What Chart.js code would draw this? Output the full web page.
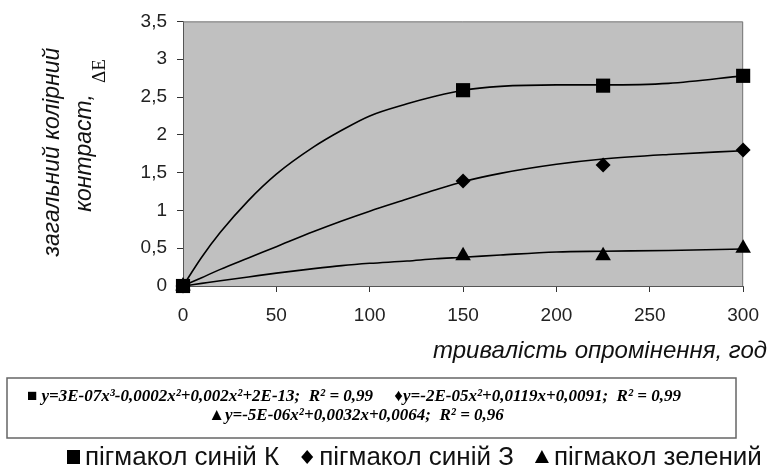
<!DOCTYPE html>
<html>
<head>
<meta charset="utf-8">
<script src="https://cdn.jsdelivr.net/npm/chart.js@4/dist/chart.umd.min.js"></script>
<style>
  html, body { margin: 0; padding: 0; background: #fff; }
  #wrap { width: 771px; height: 468px; position: relative; }
</style>
</head>
<body>
<div id="wrap"><canvas id="chart" width="771" height="468"></canvas></div>
<script>
// ======================================
// Data
// ======================================
const measX = [0, 150, 225, 300];
const blueK = [0, 2.59, 2.65, 2.78];
const blue3 = [0, 1.39, 1.6, 1.8];
const green = [0, 0.4, 0.4, 0.5];

// trend lines
const trendX = [0, 10, 20, 35, 50, 70, 85, 100, 120, 135, 150, 170, 200, 225, 260, 300];
const trendK = [0, 0.38, 0.71, 1.13, 1.48, 1.84, 2.06, 2.25, 2.41, 2.51, 2.59, 2.64, 2.66, 2.66, 2.68, 2.78];
const trend3 = [0, 0.11, 0.22, 0.37, 0.52, 0.72, 0.86, 0.99, 1.15, 1.27, 1.38, 1.49, 1.61, 1.68, 1.74, 1.79];
const trendG = [0, 0.035, 0.07, 0.12, 0.17, 0.23, 0.27, 0.3, 0.33, 0.36, 0.38, 0.41, 0.45, 0.46, 0.47, 0.49];

const yTicks = [0, 0.5, 1, 1.5, 2, 2.5, 3, 3.5];
const xTicks = [0, 50, 100, 150, 200, 250, 300];

const seriesNames = ['пігмакол синій К', 'пігмакол синій З', 'пігмакол зелений'];
const equations = [
  '■ y=3E-07x³-0,0002x²+0,002x²+2E-13;  R² = 0,99     ♦y=-2E-05x²+0,0119x+0,0091;  R² = 0,99',
  '▲y=-5E-06x²+0,0032x+0,0064;  R² = 0,96'
];

const pts = (xs, ys) => xs.map((x, i) => ({ x: x, y: ys[i] }));

// ======================================
// Plot background, frame, titles, legend
// ======================================
const decor = {
  id: 'decor',
  beforeDraw(chart) {
    const { ctx, chartArea: a } = chart;
    ctx.save();
    ctx.fillStyle = '#c0c0c0';
    ctx.fillRect(a.left, a.top, a.right - a.left, a.bottom - a.top);
    ctx.restore();
  },
  beforeDatasetsDraw(chart) {
    const { ctx, chartArea: a } = chart;
    ctx.save();
    // top / right frame
    ctx.strokeStyle = '#7a7a7a';
    ctx.lineWidth = 1;
    ctx.beginPath();
    ctx.moveTo(a.left, a.top + 0.5);
    ctx.lineTo(a.right - 0.5, a.top + 0.5);
    ctx.lineTo(a.right - 0.5, a.bottom);
    ctx.stroke();
    ctx.restore();
  },
  afterDraw(chart) {
    const { ctx } = chart;
    ctx.save();

    // y title
    ctx.fillStyle = '#111';
    ctx.textAlign = 'center';
    ctx.textBaseline = 'middle';
    ctx.save();
    ctx.translate(53, 152);
    ctx.rotate(-Math.PI / 2);
    ctx.font = 'italic 23px "Liberation Sans"';
    ctx.fillText('загальний колірний', 0, 0);
    ctx.restore();

    ctx.save();
    ctx.translate(85, 153);
    ctx.rotate(-Math.PI / 2);
    ctx.font = 'italic 23px "Liberation Sans"';
    ctx.fillText('контраст,', 0, 0);
    ctx.font = '19px "Liberation Serif"';
    ctx.textAlign = 'left';
    ctx.fillText('ΔE', 70, 15);
    ctx.restore();

    // x title
    ctx.font = 'italic 24px "Liberation Sans"';
    ctx.textAlign = 'right';
    ctx.textBaseline = 'alphabetic';
    ctx.fillText('тривалість опромінення, год', 767, 358);

    // equation box
    ctx.strokeStyle = '#666';
    ctx.lineWidth = 1.5;
    ctx.strokeRect(7, 378, 729, 60);
    ctx.font = 'italic bold 17px "Liberation Serif"';
    ctx.textAlign = 'center';
    ctx.textBaseline = 'middle';
    ctx.fillStyle = '#000';
    ctx.fillText(equations[0], 354, 397);
    ctx.fillText(equations[1], 356, 416);

    // legend
    ctx.font = '26px "Liberation Sans"';
    ctx.textAlign = 'left';
    const syms = ['rect', 'rectRot', 'triangle'];
    let x = 67;
    const y = 457;
    seriesNames.forEach((name, i) => {
      ctx.fillStyle = '#000';
      ctx.beginPath();
      if (syms[i] === 'rect') ctx.rect(x, y - 7, 13, 14);
      else if (syms[i] === 'rectRot') {
        ctx.moveTo(x + 6, y - 7); ctx.lineTo(x + 12, y); ctx.lineTo(x + 6, y + 7); ctx.lineTo(x, y);
      } else {
        ctx.moveTo(x + 6, y - 7); ctx.lineTo(x + 13, y + 6); ctx.lineTo(x - 1, y + 6);
      }
      ctx.fill();
      ctx.fillStyle = '#111';
      ctx.fillText(name, x + 18, y + 1);
      x += 18 + ctx.measureText(name).width + 22;
    });
    ctx.restore();
  }
};

// ======================================
// Chart
// ======================================
const lineDs = (data) => ({
  type: 'line', data: data, borderColor: '#000', borderWidth: 1.6,
  pointRadius: 0, fill: false, cubicInterpolationMode: 'monotone', order: 2
});
const markDs = (label, data, style, r) => ({
  type: 'scatter', label: label, data: data, showLine: false, clip: false,
  pointStyle: style, pointRadius: r, backgroundColor: '#000', borderColor: '#000',
  borderWidth: 0, order: 1
});

new Chart(document.getElementById('chart'), {
  data: {
    datasets: [
      lineDs(pts(trendX, trendG)),
      lineDs(pts(trendX, trend3)),
      lineDs(pts(trendX, trendK)),
      markDs(seriesNames[2], pts(measX, green), 'triangle', 9),
      markDs(seriesNames[1], pts(measX, blue3), 'rectRot', 7.5),
      markDs(seriesNames[0], pts(measX, blueK), 'rect', 10)
    ]
  },
  options: {
    responsive: false,
    animation: false,
    layout: { padding: { top: 21, right: 18, left: 0, bottom: 0 } },
    plugins: { legend: { display: false }, tooltip: { enabled: false } },
    scales: {
      x: {
        type: 'linear', min: 0, max: 300,
        afterBuildTicks: (s) => { s.ticks = xTicks.map(v => ({ value: v })); },
        afterFit: (s) => { s.height = 182; },
        grid: { drawOnChartArea: false, tickLength: 6, color: '#333' },
        border: { color: '#555', width: 1 },
        ticks: { color: '#222', font: { family: 'Liberation Sans', size: 19 }, padding: 12 }
      },
      y: {
        type: 'linear', min: 0, max: 3.5,
        afterBuildTicks: (s) => { s.ticks = yTicks.map(v => ({ value: v })); },
        afterFit: (s) => { s.width = 183; },
        grid: { drawOnChartArea: false, tickLength: 6, color: '#333' },
        border: { color: '#555', width: 1 },
        ticks: {
          color: '#222', font: { family: 'Liberation Sans', size: 19 }, padding: 10,
          callback: (v) => String(v).replace('.', ',')
        }
      }
    }
  },
  plugins: [decor]
});
</script>
</body>
</html>
